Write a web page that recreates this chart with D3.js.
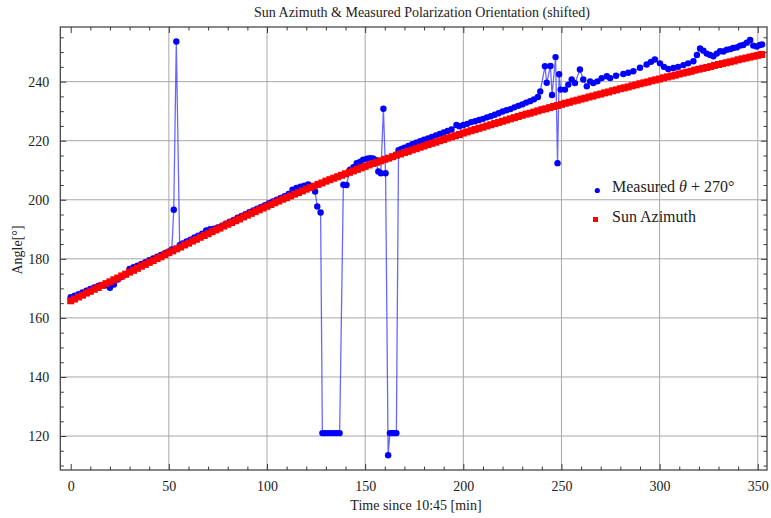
<!DOCTYPE html>
<html><head><meta charset="utf-8">
<script src="https://cdn.jsdelivr.net/npm/d3@7/dist/d3.min.js"></script>
<style>
body{margin:0;background:#fff;}
text{font-family:"Liberation Serif","Times New Roman",serif;fill:#222;}
</style></head>
<body><svg id="c" width="771" height="518"></svg>
<script>
const chartTitle = "Sun Azimuth & Measured Polarization Orientation (shifted)";
const xLabel = "Time since 10:45 [min]";
const yLabel = "Angle[°]";
const xMajorTicks = [0,50,100,150,200,250,300,350];
const yMajorTicks = [120,140,160,180,200,220,240];

const redTime = [0,2,4,6,8,10,12,14,16,18,20,22,24,26,28,30,32,34,36,38,40,42,44,46,48,50,52,54,56,58,60,62,64,66,68,70,72,74,76,78,80,82,84,86,88,90,92,94,96,98,100,102,104,106,108,110,112,114,116,118,120,122,124,126,128,130,132,134,136,138,140,142,144,146,148,150,152,154,156,158,160,162,164,166,168,170,172,174,176,178,180,182,184,186,188,190,192,194,196,198,200,202,204,206,208,210,212,214,216,218,220,222,224,226,228,230,232,234,236,238,240,242,244,246,248,250,252,254,256,258,260,262,264,266,268,270,272,274,276,278,280,282,284,286,288,290,292,294,296,298,300,302,304,306,308,310,312,314,316,318,320,322,324,326,328,330,332,334,336,338,340,342,344,346,348,350,352];
const redAngle = [165.8,166.4,167.1,167.7,168.4,169.0,169.7,170.3,171.0,171.6,172.2,172.9,173.5,174.2,174.8,175.5,176.1,176.8,177.5,178.1,178.8,179.4,180.1,180.7,181.4,182.1,182.7,183.4,184.0,184.7,185.3,186.0,186.6,187.3,187.9,188.5,189.2,189.8,190.4,191.1,191.7,192.3,192.9,193.5,194.2,194.8,195.4,196.0,196.6,197.2,197.8,198.4,199.0,199.6,200.2,200.7,201.3,201.9,202.4,203.0,203.6,204.1,204.6,205.2,205.7,206.3,206.8,207.3,207.8,208.3,208.8,209.3,209.8,210.3,210.8,211.3,211.8,212.3,212.7,213.2,213.7,214.1,214.6,215.1,215.5,216.0,216.4,216.9,217.3,217.8,218.2,218.7,219.1,219.5,220.0,220.4,220.9,221.3,221.7,222.1,222.6,223.0,223.4,223.8,224.2,224.6,225.0,225.4,225.8,226.2,226.6,227.0,227.4,227.8,228.2,228.6,229.0,229.3,229.7,230.1,230.5,230.8,231.2,231.6,231.9,232.3,232.7,233.0,233.4,233.7,234.1,234.4,234.8,235.1,235.5,235.8,236.2,236.5,236.9,237.2,237.6,237.9,238.2,238.6,238.9,239.3,239.6,239.9,240.3,240.6,240.9,241.3,241.6,241.9,242.2,242.6,242.9,243.2,243.5,243.9,244.2,244.5,244.8,245.1,245.5,245.8,246.1,246.4,246.7,247.0,247.4,247.7,248.0,248.3,248.6,248.9,249.2];

const blueTime = [0,2,4,6,8,10,12,14,16,18,20,22,24,26,28,30,32,34,36,38,40,42,44,46,48,50,51.5,52.5,53.8,55.5,57,59,61,63,65,67,69,71,73,75,77,79,81,83,85,87,89,91,93,95,97,99,101,103,105,107,109,111,113,115,117,119,121,123,124.5,125.6,127.3,128.2,129.5,131,132.5,134,135.5,137,138.9,140.5,142.3,144,145.7,147.5,149,151,152.5,154,155.3,156.7,158,159.3,160.4,161.7,162.6,163.7,164.8,165.9,167,168.5,170,172,174,176,178,180,182,184,186,188,190,192,194,196.5,198,200,202,204,206,208,210,212,214,216,218,220,222,224,226,228,230,232,234,236,238,239.2,241.6,242.5,244.4,245.2,247.0,248.0,248.8,249.6,251.8,253.5,255.2,256.9,259.4,261.1,262.9,264.6,266.2,268.3,270.5,273.1,274.8,277.8,281.5,284,286.6,290,293.4,295.6,297.6,300.2,302.2,304.4,307,309.4,312.1,314.5,317.2,319,320.6,322.3,324,325.7,327.4,329.1,330.8,332.5,334.2,335.9,337.5,339.3,341,342.6,344.4,346.1,347.7,349.5,351.1,352.2];
const blueAngle = [167.0,167.5,168.0,168.6,169.2,169.8,170.3,170.8,171.2,171.0,170.2,171.3,173.0,173.9,174.7,176.6,177.2,177.7,178.3,178.9,179.5,180.1,180.7,181.3,181.9,182.5,183.2,196.6,253.6,184.6,185.2,185.9,186.5,187.2,187.8,188.5,189.6,190.0,190.2,190.6,191.1,191.9,192.6,193.2,193.9,194.5,195.1,195.8,196.4,197.0,197.6,198.2,198.8,199.4,200.0,200.6,201.2,202.0,203.4,204.0,204.4,204.8,205.2,204.6,202.8,197.7,195.7,121.0,121.0,121.0,121.0,121.0,121.0,121.0,205.1,205.0,210.2,211.0,212.4,212.9,213.6,213.9,214.1,214.0,213.5,209.6,209.0,230.8,209.0,113.5,121.0,121.0,121.0,121.0,216.8,217.2,217.6,218.2,218.8,219.3,219.8,220.3,220.8,221.3,221.8,222.3,222.8,223.3,223.8,225.3,224.9,225.3,225.7,226.3,226.6,227.0,227.4,227.9,228.3,228.8,229.3,229.9,230.3,230.7,231.3,231.8,232.3,232.9,233.4,234.0,234.8,236.7,245.2,239.6,245.3,235.5,248.3,212.4,242.5,237.3,237.3,239.0,240.7,239.5,244.1,240.7,238.4,240.1,239.5,240.1,241.2,241.8,241.2,242.0,242.6,243.0,243.5,244.7,245.8,246.7,247.5,246.2,245.0,244.3,244.6,245.0,245.6,246.2,246.9,249.0,251.2,250.5,249.5,249.0,248.6,249.5,250.3,250.2,250.8,251.0,251.4,251.6,252.2,252.4,253.2,254.1,252.2,251.9,252.4,252.6];

const legendLabels = ["Measured", "Sun Azimuth"];

const svg = d3.select("#c");
const L = 60.3, R = 767, T = 27, B = 470;
const x = d3.scaleLinear().domain([-5.3, 354.7]).range([L, R]);
const y = d3.scaleLinear().domain([108.5, 258.5]).range([B, T]);

const axisColor = "#3a3a3a";
const gridColor = "#a8a8a8";

// grid
const g = svg.append("g");
g.selectAll("line.gx").data(xMajorTicks.filter(d => d !== 0)).join("line")
  .attr("x1", d => x(d)).attr("x2", d => x(d)).attr("y1", T).attr("y2", B)
  .attr("stroke", gridColor).attr("stroke-width", 1);
g.selectAll("line.gy").data(yMajorTicks).join("line")
  .attr("y1", d => y(d)).attr("y2", d => y(d)).attr("x1", L).attr("x2", R)
  .attr("stroke", gridColor).attr("stroke-width", 1);

// axes
const xMinor = d3.range(0, 351, 10).filter(v => !xMajorTicks.includes(v));
const yMinor = d3.range(110, 256, 5).filter(v => !yMajorTicks.includes(v));

function styleAxis(sel){
  sel.select(".domain").remove();
  sel.selectAll("line").attr("stroke", axisColor);
  sel.selectAll("text").attr("font-size", 14).attr("fill", "#222")
     .attr("font-family", "Liberation Serif, serif");
}
// bottom
svg.append("g").attr("transform", `translate(0,${B})`)
  .call(d3.axisBottom(x).tickValues(xMajorTicks).tickSizeInner(-6).tickSizeOuter(0).tickPadding(11).tickFormat(d3.format("d")))
  .call(styleAxis);
svg.append("g").attr("transform", `translate(0,${B})`)
  .call(d3.axisBottom(x).tickValues(xMinor).tickSizeInner(-3.5).tickSizeOuter(0).tickFormat(""))
  .call(styleAxis);
// top
svg.append("g").attr("transform", `translate(0,${T})`)
  .call(d3.axisTop(x).tickValues(xMajorTicks).tickSizeInner(-6).tickSizeOuter(0).tickFormat(""))
  .call(styleAxis);
svg.append("g").attr("transform", `translate(0,${T})`)
  .call(d3.axisTop(x).tickValues(xMinor).tickSizeInner(-3.5).tickSizeOuter(0).tickFormat(""))
  .call(styleAxis);
// left
svg.append("g").attr("transform", `translate(${L},0)`)
  .call(d3.axisLeft(y).tickValues(yMajorTicks).tickSizeInner(-6).tickSizeOuter(0).tickPadding(11).tickFormat(d3.format("d")))
  .call(styleAxis);
svg.append("g").attr("transform", `translate(${L},0)`)
  .call(d3.axisLeft(y).tickValues(yMinor).tickSizeInner(-3.5).tickSizeOuter(0).tickFormat(""))
  .call(styleAxis);
// right
svg.append("g").attr("transform", `translate(${R},0)`)
  .call(d3.axisRight(y).tickValues(yMajorTicks).tickSizeInner(-6).tickSizeOuter(0).tickFormat(""))
  .call(styleAxis);
svg.append("g").attr("transform", `translate(${R},0)`)
  .call(d3.axisRight(y).tickValues(yMinor).tickSizeInner(-3.5).tickSizeOuter(0).tickFormat(""))
  .call(styleAxis);

// frame
svg.append("rect").attr("x", L).attr("y", T).attr("width", R - L).attr("height", B - T)
  .attr("fill", "none").attr("stroke", axisColor).attr("stroke-width", 1.2);

// data
const blue = blueTime.map((t, i) => [t, blueAngle[i]]);
const red = redTime.map((t, i) => [t, redAngle[i]]);

const clip = svg.append("clipPath").attr("id", "clip").append("rect")
  .attr("x", L).attr("y", T).attr("width", R - L).attr("height", B - T);
const plot = svg.append("g").attr("clip-path", "url(#clip)");

plot.append("path").datum(blue)
  .attr("d", d3.line().x(d => x(d[0])).y(d => y(d[1])))
  .attr("fill", "none").attr("stroke", "#2828ff").attr("stroke-opacity", 0.7).attr("stroke-width", 1.3);
plot.selectAll("circle.b").data(blue).join("circle")
  .attr("cx", d => x(d[0])).attr("cy", d => y(d[1])).attr("r", 3.2).attr("fill", "#0000ff");
const sq = 7;
plot.selectAll("rect.r").data(red).join("rect")
  .attr("x", d => x(d[0]) - sq/2).attr("y", d => y(d[1]) - sq/2)
  .attr("width", sq).attr("height", sq).attr("fill", "#ff0000");

// title & labels
svg.append("text").attr("x", 422).attr("y", 17).attr("text-anchor", "middle")
  .attr("font-size", 14).text(chartTitle);
svg.append("text").attr("x", 416).attr("y", 510).attr("text-anchor", "middle")
  .attr("font-size", 14).text(xLabel);
svg.append("text").attr("transform", "translate(22,250) rotate(-90)").attr("text-anchor", "middle")
  .attr("font-size", 14).text(yLabel);

// legend
const lg = svg.append("g");
lg.append("circle").attr("cx", 597.3).attr("cy", 190.5).attr("r", 2.6).attr("fill", "#0000ff");
const t1 = lg.append("text").attr("x", 612).attr("y", 192).attr("font-size", 16);
t1.append("tspan").text(legendLabels[0] + " ");
t1.append("tspan").attr("font-style", "italic").text("θ");
t1.append("tspan").text(" + 270°");
lg.append("rect").attr("x", 593).attr("y", 217).attr("width", 5).attr("height", 5).attr("fill", "#ff0000");
lg.append("text").attr("x", 612).attr("y", 221.5).attr("font-size", 16).text(legendLabels[1]);
</script></body></html>
